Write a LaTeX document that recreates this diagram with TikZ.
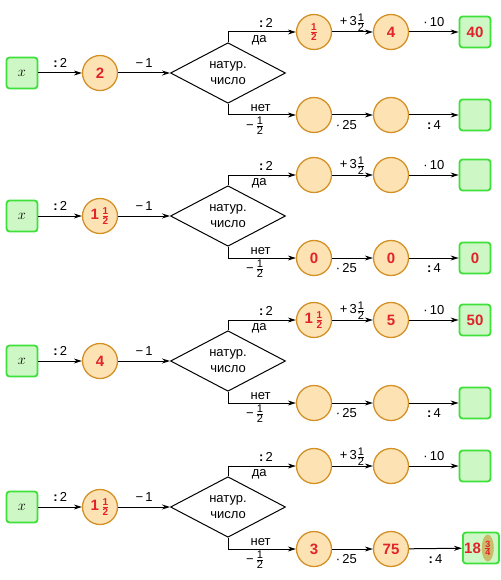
\documentclass[tikz,border=0pt]{standalone}
\usepackage{fontspec}
\setmainfont{Liberation Sans}
\usetikzlibrary{shapes.geometric,arrows.meta,positioning}

\definecolor{boxgreen}{HTML}{3FE03A}
\definecolor{boxfill}{HTML}{CDF7C4}
\definecolor{ballfill}{HTML}{FDE3B3}
\definecolor{balldraw}{HTML}{D39128}
\definecolor{numred}{HTML}{E1232B}
\definecolor{olivefill}{HTML}{C9BC6A}

% stacked fraction, optional digit size
\newcommand{\fr}[3][11]{\ensuremath{\frac{\mbox{\fontsize{#1}{#1}\selectfont #2}}{\mbox{\fontsize{#1}{#1}\selectfont #3}}}}

\begin{document}
\begin{tikzpicture}[x=1pt, y=-1pt, font=\fontsize{13}{15}\selectfont,
    ball/.style={circle, draw=balldraw, fill=ballfill, line width=1.3pt,
      minimum size=35pt, inner sep=0pt, text=numred, font=\fontsize{15}{17}\selectfont\bfseries},
    res/.style={draw=boxgreen, fill=boxfill, line width=1.8pt, rounded corners=3pt,
      minimum width=31pt, minimum height=31pt, inner sep=1pt, text=numred,
      font=\fontsize{15}{17}\selectfont\bfseries},
    test/.style={diamond, draw, line width=1pt, minimum width=115pt,
      minimum height=50pt, inner sep=0pt, align=center,
      font=\fontsize{13}{16}\selectfont},
    arr/.style={-{Stealth[length=8pt,width=5pt]}, line width=1pt}]
  \useasboundingbox (0,0) rectangle (500,580);
  \foreach \i/\y/\ca/\ta/\tb/\tc/\ba/\bb/\bc in {
      1/73/2/{\fr[10]{1}{2}}/4/40/{}/{}/{},
      2/216/{1\,\fr[10]{1}{2}}/{}/{}/{}/0/0/0,
      3/361/4/{1\,\fr[10]{1}{2}}/5/50/{}/{}/{},
      4/507/{1\,\fr[10]{1}{2}}/{}/{}/{}/3/75/{}} {
    \node[res, text=black] (x\i) at (22,\y) {\normalfont\fontsize{15}{17}\selectfont$x$};
    \node[ball] (c\i) at (100,\y) {\ca};
    \node[test] (d\i) at (228,\y) {натур.\\число};
    % upper branch
    \node[ball] (ta\i) at (314,\y-41) {\ta};
    \node[ball] (tb\i) at (391,\y-41) {\tb};
    \node[res] (tc\i) at (475,\y-41) {\tc};
    % lower branch
    \node[ball] (ba\i) at (314,\y+42) {\ba};
    \node[ball] (bb\i) at (391,\y+42) {\bb};
    \ifnum\i=4
      \node[res, minimum width=36pt, anchor=west] (bc\i) at (462,\y+41) {};
      \node[anchor=west, inner sep=0pt, text=numred, font=\fontsize{15}{17}\selectfont\bfseries]
        (n\i) at ([xshift=2pt]bc\i.west) {18};
      \node[ellipse, fill=olivefill, minimum width=12pt, minimum height=27pt,
        inner sep=0pt, text=numred, font=\bfseries, right=0.5pt of n\i] (q\i) {\fr[9]{3}{4}};
    \else
      \node[res] (bc\i) at (475,\y+42) {\bc};
    \fi
    \draw[arr] (x\i) -- (c\i) node[midway, above=2pt] {\textbf{:}\,2};
    \draw[arr] (c\i) -- (d\i) node[midway, above=2pt] {−\,1};
    \draw[arr] (d\i.north) |- (ta\i)
      node[pos=0.78, above=1pt] {\textbf{:}\,2}
      node[pos=0.73, below=0pt] {да};
    \draw[arr] (d\i.south) |- (ba\i)
      node[pos=0.74, above=0pt] {нет}
      node[pos=0.70, below=-2pt] {−\,\fr{1}{2}};
    \draw[arr] (ta\i) -- (tb\i) node[midway, above=-3pt] {+\,3\fr{1}{2}};
    \draw[arr] (tb\i) -- (tc\i) node[midway, above=2pt] {·\,10};
    \draw[arr] (ba\i) -- (bb\i) node[pos=0.35, below=2pt] {·\,25};
    \draw[arr] (bb\i) -- (bc\i) node[midway, below=2pt] {\textbf{:}\,4};
  }
\end{tikzpicture}
\end{document}
